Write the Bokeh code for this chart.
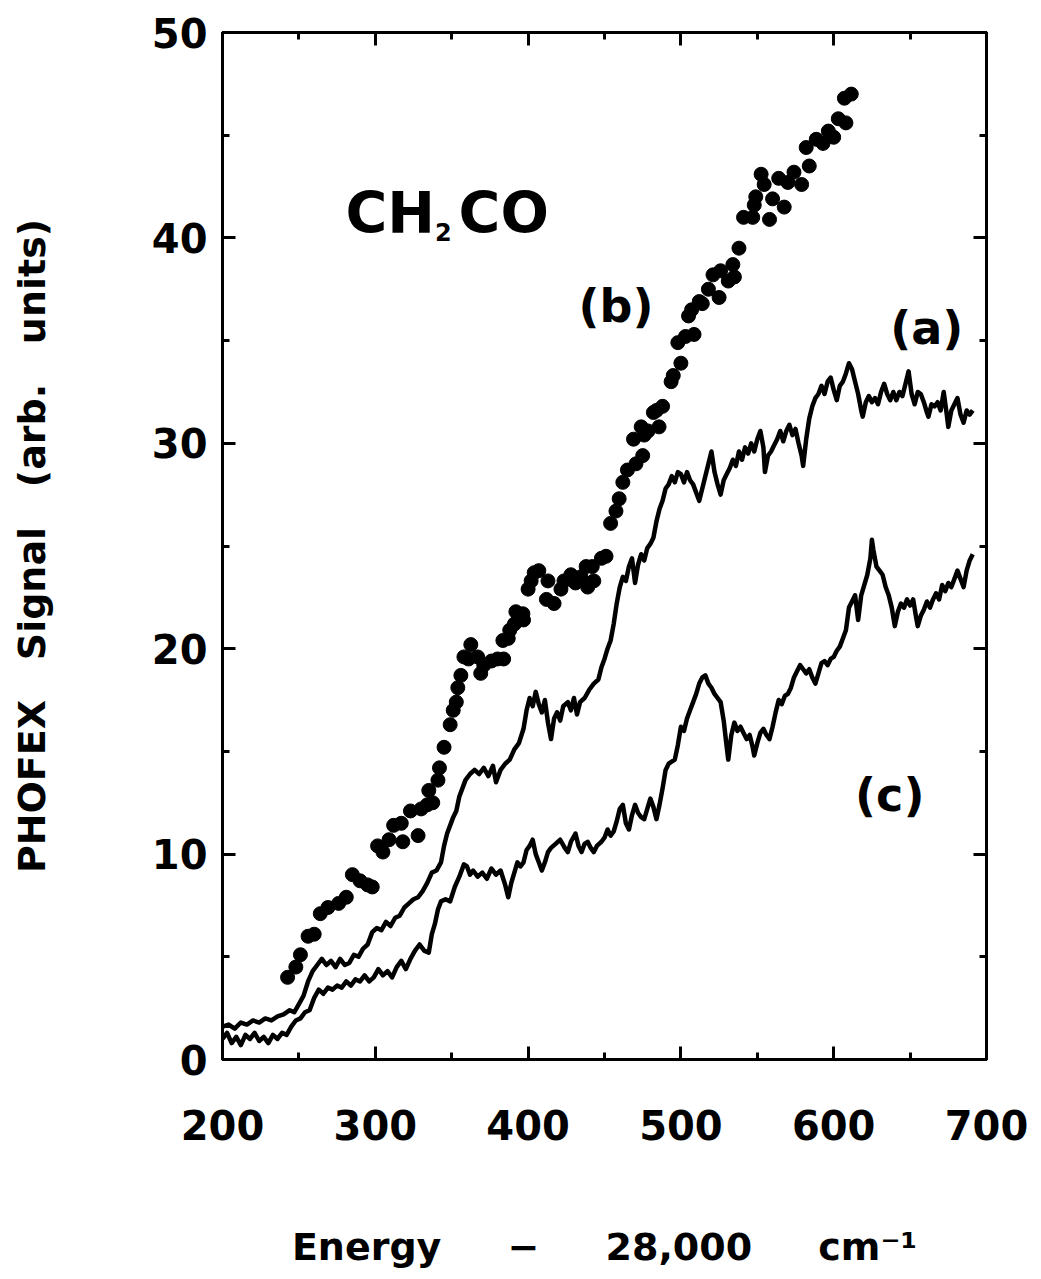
from bokeh.plotting import figure
from bokeh.models import (LinearAxis, SingleIntervalTicker, Label, Range1d,
                          CustomJSTickFormatter)
from bokeh.embed import file_html
from bokeh.resources import INLINE

# ---------------- data ----------------
# trace (a): PHOFEX signal, upper solid line
a_energy = [200, 204, 208, 212, 216, 220, 224, 228, 232, 236, 240, 244, 247, 250, 253, 256, 259, 262, 265, 268,
            271, 274, 277, 280, 283, 286, 289, 292, 295, 298, 301, 304, 307, 310, 313, 316, 319, 322, 325, 328,
            331, 334, 337, 340, 343, 345, 347, 349, 351, 353, 355, 357, 359, 362, 365, 368, 371, 374, 377, 379,
            382, 385, 388, 391, 394, 397, 399, 401, 403, 405, 407, 409, 411, 413, 415, 417, 419, 421, 423, 426,
            428, 430, 432, 434, 437, 440, 443, 446, 448, 450, 452, 454, 456, 458, 460, 462, 464, 466, 468, 470,
            472, 474, 476, 478, 480, 482, 484, 486, 488, 490, 492, 494, 496, 498, 500, 502, 504, 506, 508, 510,
            512, 514, 516, 518, 520, 522, 524, 526, 528, 530, 532, 534, 536, 538, 540, 542, 544, 546, 548, 550,
            552, 554, 555, 557, 559, 561, 563, 565, 567, 569, 571, 573, 575, 577, 579, 580, 582, 584, 586, 588,
            590, 592, 594, 596, 598, 600, 602, 604, 606, 608, 610, 612, 614, 616, 618, 619, 621, 623, 625, 627,
            629, 631, 633, 635, 637, 639, 641, 643, 645, 647, 649, 651, 653, 655, 657, 659, 661, 662, 664, 666,
            668, 670, 672, 674, 675, 677, 679, 681, 683, 685, 687, 689, 691]
a_signal = [1.6, 1.7, 1.5, 1.8, 1.7, 1.9, 1.8, 2.0, 1.9, 2.1, 2.2, 2.4, 2.3, 2.7, 3.1, 3.8, 4.3, 4.6, 4.9, 4.6,
            4.8, 4.5, 4.9, 4.6, 4.7, 5.1, 5.0, 5.4, 5.6, 6.2, 6.4, 6.3, 6.7, 6.5, 6.9, 7.0, 7.4, 7.6, 7.8, 7.9,
            8.2, 8.6, 9.1, 9.2, 9.6, 10.4, 11.0, 11.4, 11.8, 12.1, 12.8, 13.2, 13.6, 13.9, 14.1, 13.9, 14.2, 13.8, 14.3, 13.5,
            14.1, 14.4, 14.6, 15.1, 15.4, 16.1, 17.0, 17.6, 17.2, 17.9, 17.3, 16.9, 17.5, 16.4, 15.6, 16.6, 16.9, 16.5, 17.2, 17.4,
            17.0, 17.6, 16.8, 17.4, 17.6, 18.0, 18.3, 18.5, 19.1, 19.5, 20.0, 20.4, 21.2, 22.2, 23.0, 23.5, 23.3, 24.0, 24.4, 23.2,
            24.1, 24.6, 24.3, 24.9, 25.1, 25.4, 26.2, 26.8, 27.2, 27.8, 28.0, 28.4, 28.1, 28.6, 28.5, 28.1, 28.6, 28.2, 28.0, 27.6,
            27.2, 27.8, 28.4, 29.0, 29.6, 28.6, 28.0, 27.5, 28.2, 28.5, 28.8, 29.2, 28.9, 29.6, 29.2, 29.8, 29.5, 30.0, 29.6, 30.2,
            30.6, 29.8, 28.6, 29.4, 29.6, 29.9, 30.2, 30.6, 30.1, 30.6, 30.9, 30.4, 30.7, 30.0, 29.4, 28.9, 30.2, 31.2, 31.8, 32.2,
            32.4, 32.8, 32.4, 33.0, 33.2, 32.6, 32.1, 32.8, 33.0, 33.4, 33.9, 33.6, 33.0, 32.4, 31.6, 31.3, 32.0, 32.3, 32.0, 32.2,
            31.9, 32.5, 32.9, 32.4, 32.1, 32.5, 32.1, 32.5, 32.3, 32.9, 33.5, 32.4, 31.9, 32.5, 32.4, 32.0, 31.5, 31.3, 31.9, 31.8,
            32.0, 31.6, 32.5, 31.4, 30.8, 31.6, 31.9, 32.2, 31.4, 31.0, 31.6, 31.4, 31.6]

# trace (b): dots
b_energy = [242.6, 248, 251, 256, 260, 264, 269, 276, 281, 285, 290, 295, 298, 301.5, 305, 309, 312, 318, 317, 323,
            328, 330, 334, 337.6, 335, 341, 342, 345, 349, 351, 353, 354, 356, 358, 361, 362.5, 367, 369, 371, 376,
            380, 383.5, 384, 387, 388, 391, 392, 396.6, 397, 400, 402, 404, 407, 412, 413, 417, 421.5, 423.5, 428, 431,
            434.6, 438, 439, 442, 443, 448, 451, 454, 457.5, 459.6, 462, 465, 469, 470.6, 474, 475, 476, 478.5, 482, 484,
            485.7, 488, 493.6, 495, 498, 500, 503, 505, 507, 508.6, 512, 514, 518, 521, 525, 526, 531, 534, 535, 538,
            541, 547, 548, 549, 552.5, 554.5, 558, 560, 564, 567.6, 570, 574, 579, 582, 584, 588.6, 593, 596.5, 600, 603,
            608, 607, 611.5]
b_signal = [4.0, 4.5, 5.1, 6.0, 6.1, 7.1, 7.4, 7.6, 7.9, 9.0, 8.7, 8.5, 8.4, 10.4, 10.1, 10.7, 11.4, 10.6, 11.5, 12.1,
            10.9, 12.2, 12.4, 12.5, 13.1, 13.6, 14.2, 15.2, 16.3, 17.0, 17.4, 18.1, 18.7, 19.6, 19.5, 20.2, 19.6, 18.8, 19.2, 19.4,
            19.5, 20.4, 19.5, 20.5, 20.9, 21.2, 21.8, 21.7, 21.4, 22.9, 23.3, 23.7, 23.8, 22.4, 23.3, 22.2, 22.9, 23.3, 23.6, 23.2,
            23.5, 24.0, 23.0, 24.0, 23.3, 24.4, 24.5, 26.1, 26.7, 27.3, 28.1, 28.7, 30.2, 29.0, 30.8, 29.4, 30.4, 30.6, 31.5, 31.6,
            30.8, 31.8, 33.0, 33.3, 34.9, 33.9, 35.2, 36.2, 36.5, 35.3, 36.9, 36.8, 37.5, 38.2, 37.1, 38.4, 37.9, 38.7, 38.1, 39.5,
            41.0, 41.0, 41.6, 42.0, 43.1, 42.6, 40.9, 41.9, 42.9, 41.5, 42.7, 43.2, 42.6, 44.4, 43.5, 44.8, 44.6, 45.2, 44.9, 45.8,
            45.6, 46.8, 47.0]

# trace (c): lower solid line
c_energy = [200, 203, 206, 209, 212, 215, 218, 221, 224, 227, 230, 233, 236, 239, 242, 245, 248, 251, 254, 257,
            260, 263, 266, 269, 272, 275, 278, 281, 284, 287, 290, 293, 296, 299, 302, 305, 308, 311, 314, 317,
            320, 323, 326, 329, 332, 335, 337, 339, 341, 343, 346, 349, 352, 355, 358, 360, 362, 364, 367, 370,
            373, 376, 379, 382, 385, 387, 389, 391, 393, 395, 397, 399, 401, 403, 405, 407, 409, 411, 413, 415,
            418, 421, 424, 426, 428, 431, 433, 435, 437, 439, 441, 443, 445, 448, 450, 452, 454, 456, 458, 460,
            462, 464, 466, 468, 470, 472, 474, 476, 478, 480, 482, 484, 486, 488, 490, 492, 494, 496, 498, 500,
            502, 504, 506, 508, 510, 512, 514, 516, 518, 520, 522, 524, 526, 528, 530, 531, 533, 535, 537, 539,
            541, 543, 545, 547, 548, 550, 552, 554, 556, 558, 560, 562, 564, 566, 568, 570, 572, 574, 576, 578,
            580, 582, 584, 586, 588, 590, 592, 594, 596, 598, 600, 602, 604, 606, 608, 610, 612, 614, 616, 618,
            620, 622, 624, 625, 626, 628, 630, 632, 634, 636, 638, 640, 642, 644, 646, 648, 650, 652, 654, 655,
            657, 659, 661, 663, 665, 667, 669, 671, 673, 675, 677, 679, 681, 683, 685, 687, 689, 691]
c_signal = [1.0, 1.3, 0.8, 1.1, 0.7, 1.2, 1.0, 1.3, 0.9, 1.1, 0.8, 1.2, 1.0, 1.3, 1.2, 1.6, 1.9, 2.0, 2.3, 2.4,
            3.0, 3.4, 3.2, 3.5, 3.4, 3.6, 3.5, 3.8, 3.6, 3.9, 3.8, 4.1, 3.8, 4.0, 4.4, 4.1, 4.3, 4.0, 4.5, 4.8,
            4.4, 4.9, 5.3, 5.6, 5.3, 5.2, 6.1, 6.6, 7.3, 7.7, 7.8, 7.7, 8.4, 8.9, 9.5, 9.4, 9.0, 9.2, 8.9, 9.1,
            8.8, 9.3, 9.0, 9.2, 8.5, 7.9, 8.6, 9.1, 9.6, 9.4, 9.6, 10.2, 10.4, 10.7, 10.0, 9.6, 9.2, 9.6, 10.1, 10.3,
            10.5, 10.7, 10.3, 10.1, 10.6, 11.0, 10.4, 10.1, 10.5, 10.6, 10.3, 10.1, 10.4, 10.6, 10.8, 11.2, 10.9, 11.1, 11.6, 12.2,
            12.4, 11.5, 11.2, 11.9, 12.4, 12.0, 11.8, 11.7, 12.2, 12.7, 12.3, 11.7, 12.4, 13.2, 14.1, 14.4, 14.5, 14.6, 15.3, 16.2,
            16.0, 16.6, 17.0, 17.4, 17.8, 18.3, 18.6, 18.7, 18.3, 18.1, 17.8, 17.6, 17.4, 16.5, 15.2, 14.6, 15.8, 16.4, 16.0, 16.2,
            15.9, 15.6, 15.8, 15.2, 14.8, 15.4, 15.9, 16.1, 15.8, 15.6, 16.2, 16.9, 17.5, 17.3, 17.7, 17.8, 18.1, 18.6, 18.9, 19.2,
            19.0, 18.8, 19.0, 18.6, 18.3, 18.8, 19.3, 19.4, 19.2, 19.5, 19.6, 19.9, 20.1, 20.5, 20.9, 22.0, 22.3, 22.6, 21.4, 22.6,
            23.1, 23.6, 24.4, 25.3, 24.8, 24.0, 23.8, 23.6, 23.0, 22.6, 22.0, 21.1, 21.8, 22.2, 22.0, 22.4, 22.1, 22.4, 21.5, 21.1,
            21.6, 21.9, 22.3, 22.0, 22.4, 22.7, 22.4, 23.1, 22.8, 23.2, 23.0, 23.4, 23.8, 23.4, 23.0, 23.8, 24.3, 24.6]

x_label = "Energy\u00a0\u00a0\u00a0\u00a0\u00a0\u2212\u00a0\u00a0\u00a0\u00a0\u00a028,000\u00a0\u00a0\u00a0\u00a0\u00a0cm\u207b\u00b9"
y_label = "PHOFEX\u00a0\u00a0\u00a0Signal\u00a0\u00a0\u00a0(arb.\u00a0\u00a0\u00a0units)"

FONT = "DejaVu Sans"

p = figure(width=1041, height=1279, x_range=Range1d(200, 700), y_range=Range1d(0, 50),
           output_backend="svg", toolbar_location=None,
           min_border_left=222, min_border_right=55, min_border_top=32, min_border_bottom=220)
p.background_fill_color = "white"
p.border_fill_color = "white"
p.outline_line_color = "black"
p.outline_line_width = 3
p.xgrid.visible = False
p.ygrid.visible = False

def style_axis(ax, labels=True):
    ax.axis_line_width = 3
    ax.axis_line_color = "black"
    ax.major_tick_in = 13
    ax.major_tick_out = 0
    ax.minor_tick_in = 7
    ax.minor_tick_out = 0
    ax.major_tick_line_width = 3
    ax.minor_tick_line_width = 3
    ax.major_tick_line_color = "black"
    ax.minor_tick_line_color = "black"
    ax.major_label_text_font = FONT
    ax.major_label_text_font_style = "bold"
    ax.major_label_text_font_size = "40px"
    ax.major_label_text_color = "black"
    ax.axis_label_text_font = FONT
    ax.axis_label_text_font_style = "bold"
    ax.axis_label_text_font_size = "38px"
    ax.axis_label_text_color = "black"
    if not labels:
        ax.formatter = CustomJSTickFormatter(code="return ''")

xt = SingleIntervalTicker(interval=100, num_minor_ticks=2)
yt = SingleIntervalTicker(interval=10, num_minor_ticks=2)

xa = p.xaxis[0]
xa.ticker = xt
style_axis(xa)
xa.major_label_standoff = 50
xa.axis_label = x_label
xa.axis_label_standoff = 82

ya = p.yaxis[0]
ya.ticker = yt
style_axis(ya)
ya.major_label_standoff = 15
ya.axis_label = y_label
ya.axis_label_standoff = 95

top = LinearAxis(ticker=SingleIntervalTicker(interval=100, num_minor_ticks=2))
style_axis(top, labels=False)
p.add_layout(top, "above")
right = LinearAxis(ticker=SingleIntervalTicker(interval=10, num_minor_ticks=2))
style_axis(right, labels=False)
p.add_layout(right, "right")

p.line(a_energy, a_signal, line_color="black", line_width=4.5, line_join="round")
p.line(c_energy, c_signal, line_color="black", line_width=4.5, line_join="round")
p.scatter(b_energy, b_signal, size=14, fill_color="black", line_color="black")

def lab(x, y, text, size):
    p.add_layout(Label(x=x, y=y, text=text, text_font=FONT, text_font_style="bold",
                       text_font_size=size, text_color="black",
                       text_align="left", text_baseline="alphabetic"))

lab(280.5, 41.2, "CH", "57px")
lab(339, 40.3, "2", "24px")
lab(354.5, 41.2, "CO", "57px")
lab(433, 36.7, "(b)", "46px")
lab(637, 35.6, "(a)", "46px")
lab(614, 12.9, "(c)", "46px")

open("out.html", "w").write(file_html(p, INLINE))
